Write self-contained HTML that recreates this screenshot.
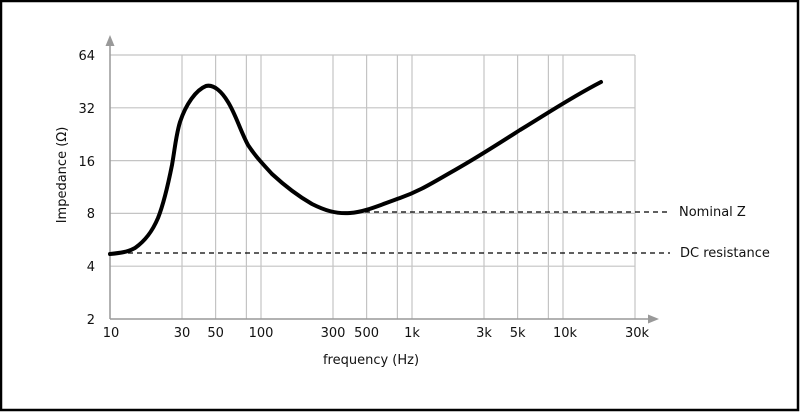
<!DOCTYPE html>
<html><head><meta charset="utf-8"><style>
html,body{margin:0;padding:0;background:#fff}
svg{display:block}
text{font-family:"DejaVu Sans","Liberation Sans",sans-serif;font-size:13px;fill:#111}
</style></head><body>
<svg width="800" height="412" viewBox="0 0 800 412" xmlns="http://www.w3.org/2000/svg">
<rect x="1" y="1" width="797" height="409" fill="#fff" stroke="#000" stroke-width="2.5"/>
<g stroke="#c4c4c4" stroke-width="1.2" fill="none">
<line x1="110" y1="55" x2="635" y2="55"/>
<line x1="110" y1="107.8" x2="635" y2="107.8"/>
<line x1="110" y1="160.6" x2="635" y2="160.6"/>
<line x1="110" y1="213.4" x2="635" y2="213.4"/>
<line x1="110" y1="266.2" x2="635" y2="266.2"/>
<line x1="182" y1="55" x2="182" y2="319"/>
<line x1="215.6" y1="55" x2="215.6" y2="319"/>
<line x1="246.4" y1="55" x2="246.4" y2="319"/>
<line x1="261" y1="55" x2="261" y2="319"/>
<line x1="333" y1="55" x2="333" y2="319"/>
<line x1="366.6" y1="55" x2="366.6" y2="319"/>
<line x1="397.4" y1="55" x2="397.4" y2="319"/>
<line x1="412" y1="55" x2="412" y2="319"/>
<line x1="484" y1="55" x2="484" y2="319"/>
<line x1="517.6" y1="55" x2="517.6" y2="319"/>
<line x1="548.4" y1="55" x2="548.4" y2="319"/>
<line x1="563" y1="55" x2="563" y2="319"/>
<line x1="635" y1="55" x2="635" y2="319"/>
</g>
<g stroke="#999" stroke-width="1.5" fill="#999">
<line x1="110" y1="319" x2="110" y2="44"/>
<polygon points="110,35 105.5,46 114.5,46" stroke="none"/>
<line x1="110" y1="319" x2="650" y2="319"/>
<polygon points="659,319 648,314.5 648,323.5" stroke="none"/>
</g>
<g stroke="#000" stroke-width="1.2" stroke-dasharray="5,4" fill="none">
<line x1="365" y1="212" x2="670" y2="212"/>
<line x1="110" y1="253" x2="670" y2="253"/>
</g>
<path d="M110,254 C120,253 128,252 135,248 C145,241 152,232 158,218 C164,203 168,185 172,165 C175,148 176,135 180,122 C186,104 196,90 206,86 C214,84 222,92 228,102 C236,115 240,130 248,145 C256,157 262,163 272,174 C285,186 298,196 312,204 C324,210 335,214 350,213 C365,212 380,205 400,198 C420,191 432,183 455,170 C478,157 495,146 520,130 C545,115 570,98 601,82" fill="none" stroke="#000" stroke-width="4" stroke-linecap="round" stroke-linejoin="round"/>
<g text-anchor="end">
<text x="95" y="60">64</text>
<text x="95" y="113">32</text>
<text x="95" y="166">16</text>
<text x="95" y="218">8</text>
<text x="95" y="271">4</text>
<text x="95" y="324">2</text>
</g>
<g text-anchor="middle">
<text x="111" y="337">10</text>
<text x="182" y="337">30</text>
<text x="215.6" y="337">50</text>
<text x="261" y="337">100</text>
<text x="333" y="337">300</text>
<text x="366.6" y="337">500</text>
<text x="412" y="337">1k</text>
<text x="484" y="337">3k</text>
<text x="517.6" y="337">5k</text>
<text x="565" y="337">10k</text>
<text x="637" y="337">30k</text>
<text x="371" y="364">frequency (Hz)</text>
</g>
<text x="679" y="216">Nominal Z</text>
<text x="680" y="257">DC resistance</text>
<text transform="translate(66,175) rotate(-90)" text-anchor="middle">Impedance (Ω)</text>
</svg>
</body></html>
